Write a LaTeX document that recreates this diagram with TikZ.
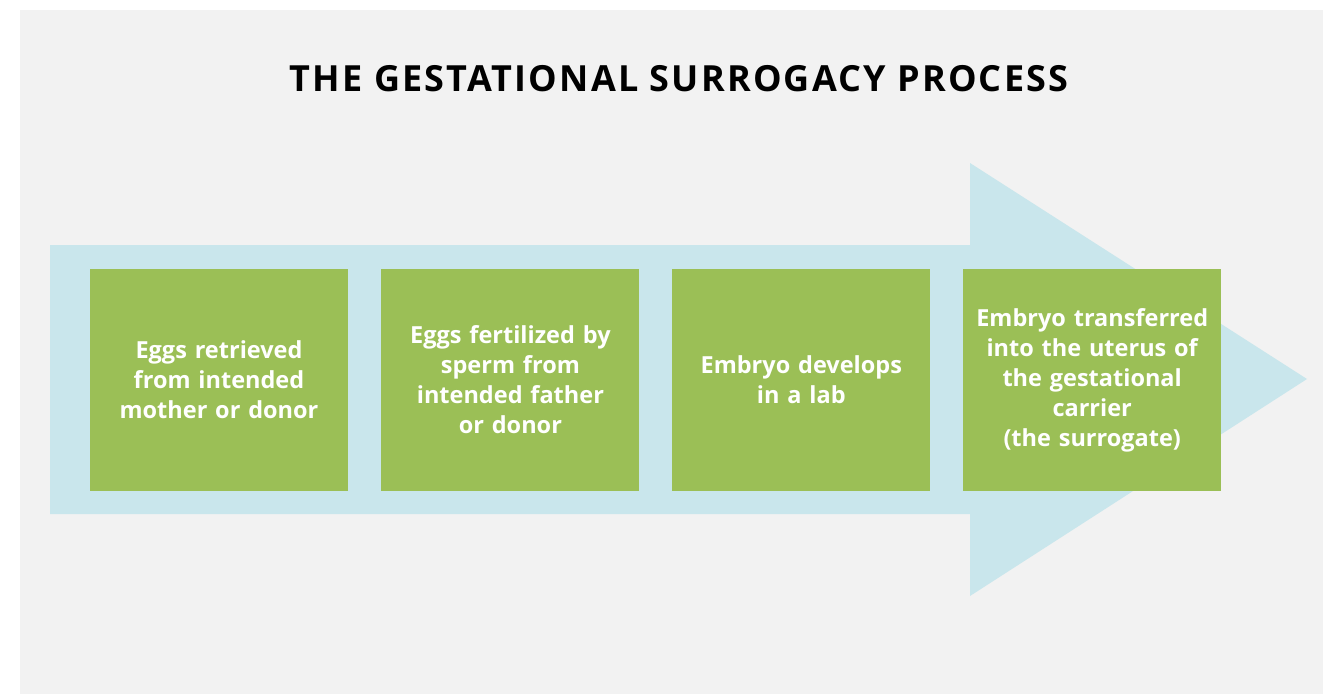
\documentclass[tikz,border=0pt]{standalone}
\usepackage{fontspec}
\setmainfont{Open Sans}
\usepackage{tikz}
\usetikzlibrary{positioning}

\definecolor{bggray}{HTML}{F2F2F2}
\definecolor{arrowblue}{HTML}{C9E6EC}
\definecolor{stepgreen}{HTML}{9BBF56}

\tikzset{
    stepbox/.style={fill=stepgreen,minimum width=258pt,minimum height=222pt,
        text width=250pt,align=center,inner sep=0pt,text=white,
        font=\fontsize{23.5}{30}\selectfont\bfseries},
}

\begin{document}
\begin{tikzpicture}[x=1pt,y=-1pt]
        \useasboundingbox (0,0) rectangle (1323,694);
        \fill[bggray] (20,10) rectangle (1323,694);

        % big arrow behind the steps
        \fill[arrowblue] (50,245)--(970,245)--(970,163)--(1307,379)--(970,596)--(970,514)--(50,514)--cycle;

        \node (title) at (679,79) {\fontsize{36}{40}\selectfont\bfseries\addfontfeatures{LetterSpace=6}THE GESTATIONAL SURROGACY PROCESS};

        \node[stepbox] (eggs) at (219,380) {Eggs retrieved\\from intended\\mother or donor};
        \node[stepbox,right=33pt of eggs] (fertilized) {Eggs fertilized by\\sperm from\\intended father\\or donor};
        \node[stepbox,right=32.5pt of fertilized] (lab) {Embryo develops\\in a lab};
        \node[stepbox,right=32.5pt of lab] (transfer) {Embryo transferred\\into the uterus of\\the gestational\\carrier\\(the surrogate)};

    \end{tikzpicture}
\end{document}
